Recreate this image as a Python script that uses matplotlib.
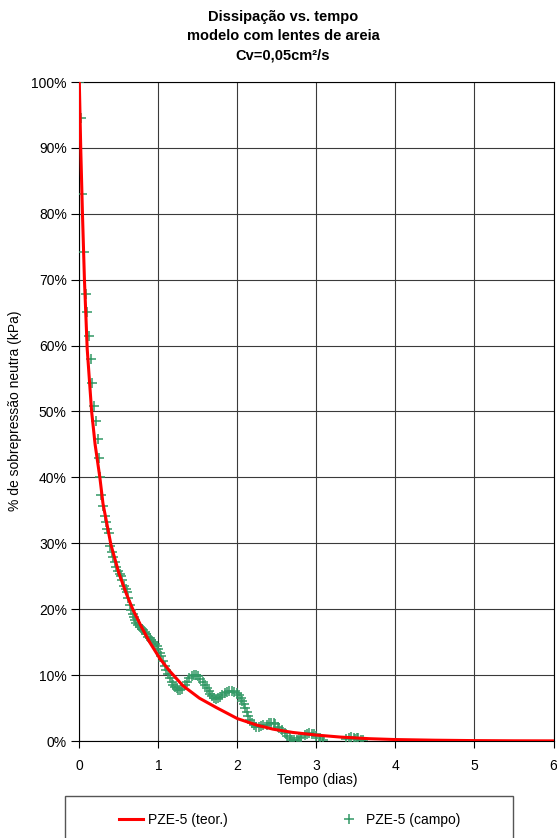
import matplotlib
matplotlib.use("Agg")
import matplotlib.pyplot as plt
from matplotlib.patches import Rectangle

plt.rcParams['font.family'] = ['Liberation Sans', 'DejaVu Sans']
plt.rcParams['font.size'] = 10

# theoretical dissipation curve (dias, %)
t_teor = [0, 0.018, 0.04, 0.065, 0.1, 0.156, 0.2, 0.26, 0.3, 0.4, 0.5, 0.6,
          0.68, 0.8, 0.89, 1.02, 1.145, 1.31, 1.52, 1.73, 2.0, 2.25, 2.45,
          2.7, 3.0, 3.3, 3.67, 4.0, 4.5, 5.0, 5.5, 6.0]
u_teor = [100, 90, 80, 70, 59.5, 50, 45, 40, 36, 29.8, 25.5, 22.2,
          19.9, 17.0, 15.0, 12.5, 10.6, 8.4, 6.5, 5.1, 3.4, 2.4, 1.8,
          1.3, 0.9, 0.6, 0.35, 0.22, 0.12, 0.06, 0.03, 0.02]

# field readings (dias, %)
t_campo = [0, 0.018, 0.038, 0.063, 0.083, 0.10, 0.122, 0.144, 0.164, 0.186,
           0.211, 0.232, 0.249, 0.266, 0.28, 0.30, 0.32, 0.34, 0.355, 0.37,
           0.388, 0.41, 0.43, 0.45, 0.47, 0.49, 0.51, 0.53, 0.545, 0.57,
           0.585, 0.60, 0.62, 0.64, 0.66, 0.675, 0.69, 0.70, 0.72, 0.745,
           0.77, 0.79, 0.81, 0.83, 0.85, 0.87, 0.89, 0.91, 0.93, 0.955,
           0.98, 1.0, 1.02, 1.04, 1.06, 1.08, 1.10, 1.12, 1.145, 1.17,
           1.19, 1.21, 1.23, 1.255, 1.28, 1.305, 1.335, 1.36, 1.39, 1.42,
           1.45, 1.475, 1.50, 1.53, 1.56, 1.585, 1.61, 1.635, 1.66, 1.685,
           1.71, 1.735, 1.755, 1.78, 1.81, 1.84, 1.87, 1.90, 1.935, 1.96,
           1.99, 2.015, 2.04, 2.06, 2.08, 2.10, 2.12, 2.14, 2.16, 2.18,
           2.21, 2.24, 2.27, 2.30, 2.33, 2.37, 2.40, 2.43, 2.46, 2.48,
           2.51, 2.53, 2.56, 2.60, 2.63, 2.66, 2.69, 2.72, 2.75, 2.78,
           2.81, 2.85, 2.88, 2.91, 2.94, 2.97, 3.00, 3.04, 3.08,
           3.38, 3.41, 3.44, 3.47, 3.49, 3.51, 3.53, 3.56, 3.59]
u_campo = [100, 94.6, 83.0, 74.2, 67.9, 65.1, 61.5, 57.9, 54.4, 50.9,
           48.6, 45.8, 43.0, 40.0, 37.3, 35.6, 34.2, 33.2, 32.2, 31.5,
           29.6, 28.7, 27.9, 27.2, 26.4, 25.8, 25.4, 25.0, 24.4, 23.5,
           23.1, 22.6, 21.7, 20.6, 19.9, 19.2, 18.8, 18.3, 17.9, 17.6,
           17.3, 17.0, 16.8, 16.5, 16.2, 15.8, 15.6, 15.3, 15.0, 14.7,
           14.4, 14.0, 13.4, 12.9, 12.1, 11.4, 10.8, 10.1, 9.5, 8.9,
           8.5, 8.2, 8.0, 7.8, 7.7, 7.9, 8.5, 9.0, 9.5, 9.8,
           10.0, 10.0, 9.8, 9.4, 9.0, 8.5, 8.0, 7.6, 7.2, 6.8,
           6.5, 6.4, 6.5, 6.7, 7.0, 7.3, 7.5, 7.6, 7.6, 7.5,
           7.3, 7.0, 6.6, 6.1, 5.6, 5.0, 4.4, 3.8, 3.2, 2.7,
           2.4, 2.2, 2.2, 2.3, 2.4, 2.5, 2.7, 2.8, 2.8, 2.6,
           2.2, 1.9, 1.6, 1.2, 0.8, 0.4, 0.2, 0.15, 0.2, 0.4,
           0.6, 0.9, 1.1, 1.2, 1.1, 1.0, 0.8, 0.4, 0.1,
           0.3, 0.5, 0.6, 0.5, 0.3, 0.5, 0.4, 0.2, 0.1]

x_ticks = [0, 1, 2, 3, 4, 5, 6]
y_ticks = [0, 10, 20, 30, 40, 50, 60, 70, 80, 90, 100]

W, H = 557, 838
fig = plt.figure(figsize=(W / 100, H / 100), dpi=100)
ax = fig.add_axes([79.3 / W, (H - 741) / H, (553.5 - 79.3) / W, (741 - 82) / H])

ax.plot(t_campo, u_campo, linestyle='none', marker='+', markersize=7,
        markeredgewidth=1.1, color='#339966', label='PZE-5 (campo)', zorder=3)
ax.plot(t_teor, u_teor, color='#ff0000', lw=2.2, label='PZE-5 (teor.)', zorder=4)

ax.set_xlim(0, 6)
ax.set_ylim(0, 100)
ax.set_xticks(x_ticks)
ax.set_yticks(y_ticks)
ax.set_yticklabels([f"{v}%" for v in y_ticks])
ax.tick_params(axis='y', direction='out', length=6, width=0.8, pad=3)
ax.tick_params(axis='x', direction='out', length=5, width=0.8, pad=8)
ax.grid(True, color='#3a3a3a', lw=0.8)
ax.set_axisbelow(True)
for s in ax.spines.values():
    s.set_color('black')
    s.set_linewidth(0.8)

# titles and axis labels
cx = 283 / W
tkw = dict(ha='center', va='center', fontweight='bold', fontsize=10.5)
fig.text(cx, 1 - 17 / H, 'Dissipação vs. tempo', **tkw)
fig.text(cx, 1 - 36 / H, 'modelo com lentes de areia', **tkw)
fig.text(cx, 1 - 55 / H, 'Cv=0,05cm²/s', **tkw)
fig.text(317 / W, 1 - 780 / H, 'Tempo (dias)', ha='center', va='center')
fig.text(15 / W, 1 - 411 / H, '% de sobrepressão neutra (kPa)', ha='center', va='center',
         rotation=90)

# legend box runs off the bottom of the picture
fig.patches.append(Rectangle((65 / W, -0.02), (513 - 65) / W, (H - 796) / H + 0.02,
                             transform=fig.transFigure, fill=False,
                             edgecolor='#555555', lw=1.0))
h, l = ax.get_legend_handles_labels()
fig.legend([h[1], h[0]], [l[1], l[0]], loc='center', ncol=2, frameon=False,
           bbox_to_anchor=(289.5 / W, 1 - 820 / H), handlelength=1.75,
           handletextpad=0.35, columnspacing=7.8)

fig.savefig('out.png', dpi=100)
